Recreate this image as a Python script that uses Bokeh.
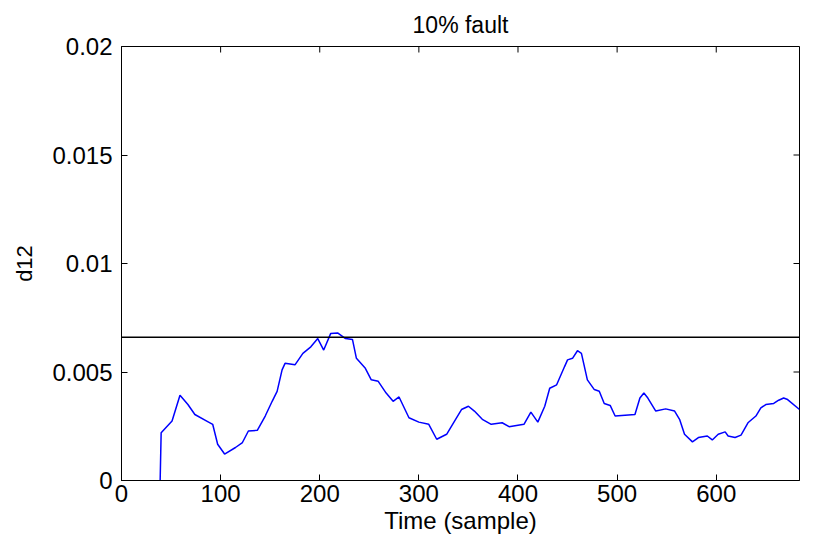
import math
from bokeh.plotting import figure
from bokeh.models import FixedTicker, CustomJSTickFormatter, Span, Range1d
from bokeh.embed import file_html
from bokeh.resources import INLINE

title_text = "10% fault"
x_label = "Time (sample)"
y_label = "d12"
x_ticks = [0, 100, 200, 300, 400, 500, 600]
y_ticks = [0, 0.005, 0.01, 0.015, 0.02]
x_min, x_max = 0, 684
y_min, y_max = 0, 0.02
threshold = 0.0066

time = [39, 40, 51, 59, 67, 74, 86, 92, 97, 104,
        115, 122, 128, 137, 145, 152, 157, 162, 165, 175,
        183, 191, 198, 204, 211, 218, 226, 233, 237, 246,
        252, 259, 267, 274, 280, 290, 300, 310, 318, 328,
        336, 343, 350, 356, 364, 373, 384, 391, 406, 413,
        420, 427, 432, 439, 447, 450, 455, 460, 464, 470,
        477, 482, 487, 493, 498, 518, 523, 527, 531, 539,
        549, 558, 563, 568, 576, 582, 591, 596, 602, 609,
        612, 619, 625, 632, 640, 645, 650, 658, 663, 668,
        672, 684]
d12 = [0, 0.0022, 0.00274, 0.00393, 0.0035, 0.00304, 0.00274, 0.00259, 0.00167, 0.00122,
       0.00152, 0.00175, 0.00228, 0.00231, 0.00297, 0.00365, 0.00411, 0.0051, 0.0054, 0.00533,
       0.00586, 0.00616, 0.00654, 0.00601, 0.00677, 0.0068, 0.00654, 0.0065, 0.00563, 0.00517,
       0.00464, 0.00457, 0.00403, 0.00365, 0.00385, 0.00289, 0.00269, 0.00259, 0.0019, 0.00213,
       0.00274, 0.00327, 0.00342, 0.0032, 0.00282, 0.00259, 0.00266, 0.00248, 0.00259, 0.00315,
       0.00269, 0.00342, 0.00425, 0.00441, 0.00525, 0.00556, 0.00563, 0.00598, 0.00586, 0.00464,
       0.00419, 0.00411, 0.00355, 0.00346, 0.00297, 0.00304, 0.0038, 0.00403, 0.0038, 0.0032,
       0.0033, 0.0032, 0.00282, 0.00213, 0.00178, 0.00198, 0.00205, 0.00187, 0.00213, 0.00224,
       0.00205, 0.00198, 0.00209, 0.00266, 0.00297, 0.00335, 0.0035, 0.00355, 0.0037, 0.0038,
       0.00373, 0.00327]

FONT = "Liberation Sans"
TICK_FS = "24px"

p = figure(width=801, height=536, output_backend="svg", toolbar_location=None,
           x_range=Range1d(x_min, x_max), y_range=Range1d(y_min, y_max),
           title=title_text, x_axis_label=x_label, y_axis_label=y_label,
           min_border_left=121, min_border_right=2, min_border_top=45, min_border_bottom=55)
p.grid.visible = False
p.outline_line_color = "black"
p.outline_line_width = 1
p.background_fill_color = "white"
p.border_fill_color = "white"

p.title.align = "center"
p.title.text_font = FONT
p.title.text_font_size = "23px"
p.title.text_font_style = "normal"
p.title.text_color = "black"
p.title.standoff = 18

fmt = CustomJSTickFormatter(code="return Number(tick.toFixed(4)).toString();")

def style_axis(ax, ticks, label_fs):
    ax.ticker = FixedTicker(ticks=ticks)
    ax.major_tick_in = 6
    ax.major_tick_out = 0
    ax.minor_tick_line_color = None
    ax.major_tick_line_color = "black"
    ax.axis_line_color = "black"
    ax.major_label_text_font = FONT
    ax.major_label_text_color = "black"
    ax.major_label_text_font_size = TICK_FS
    ax.axis_label_text_font = FONT
    ax.axis_label_text_font_size = label_fs
    ax.axis_label_text_font_style = "normal"
    ax.axis_label_text_color = "black"

xa = p.xaxis[0]
ya = p.yaxis[0]
style_axis(xa, x_ticks, "24px")
style_axis(ya, y_ticks, "22px")
ya.formatter = fmt
ya.major_label_standoff = 9
ya.axis_label_standoff = 12
xa.major_label_standoff = 4
xa.axis_label_standoff = 2

# inward ticks on the top and right edges of the box
p.ray(x=x_ticks, y=[y_max] * len(x_ticks), length=6, length_units="screen",
      angle=-math.pi / 2, line_color="black", line_width=1)
p.ray(x=[x_max] * len(y_ticks), y=y_ticks, length=6, length_units="screen",
      angle=math.pi, line_color="black", line_width=1)

p.line(time, d12, line_color="#0000ff", line_width=1.5)
p.add_layout(Span(location=threshold, dimension="width", line_color="black", line_width=1.4))

open("out.html", "w").write(file_html(p, INLINE))
